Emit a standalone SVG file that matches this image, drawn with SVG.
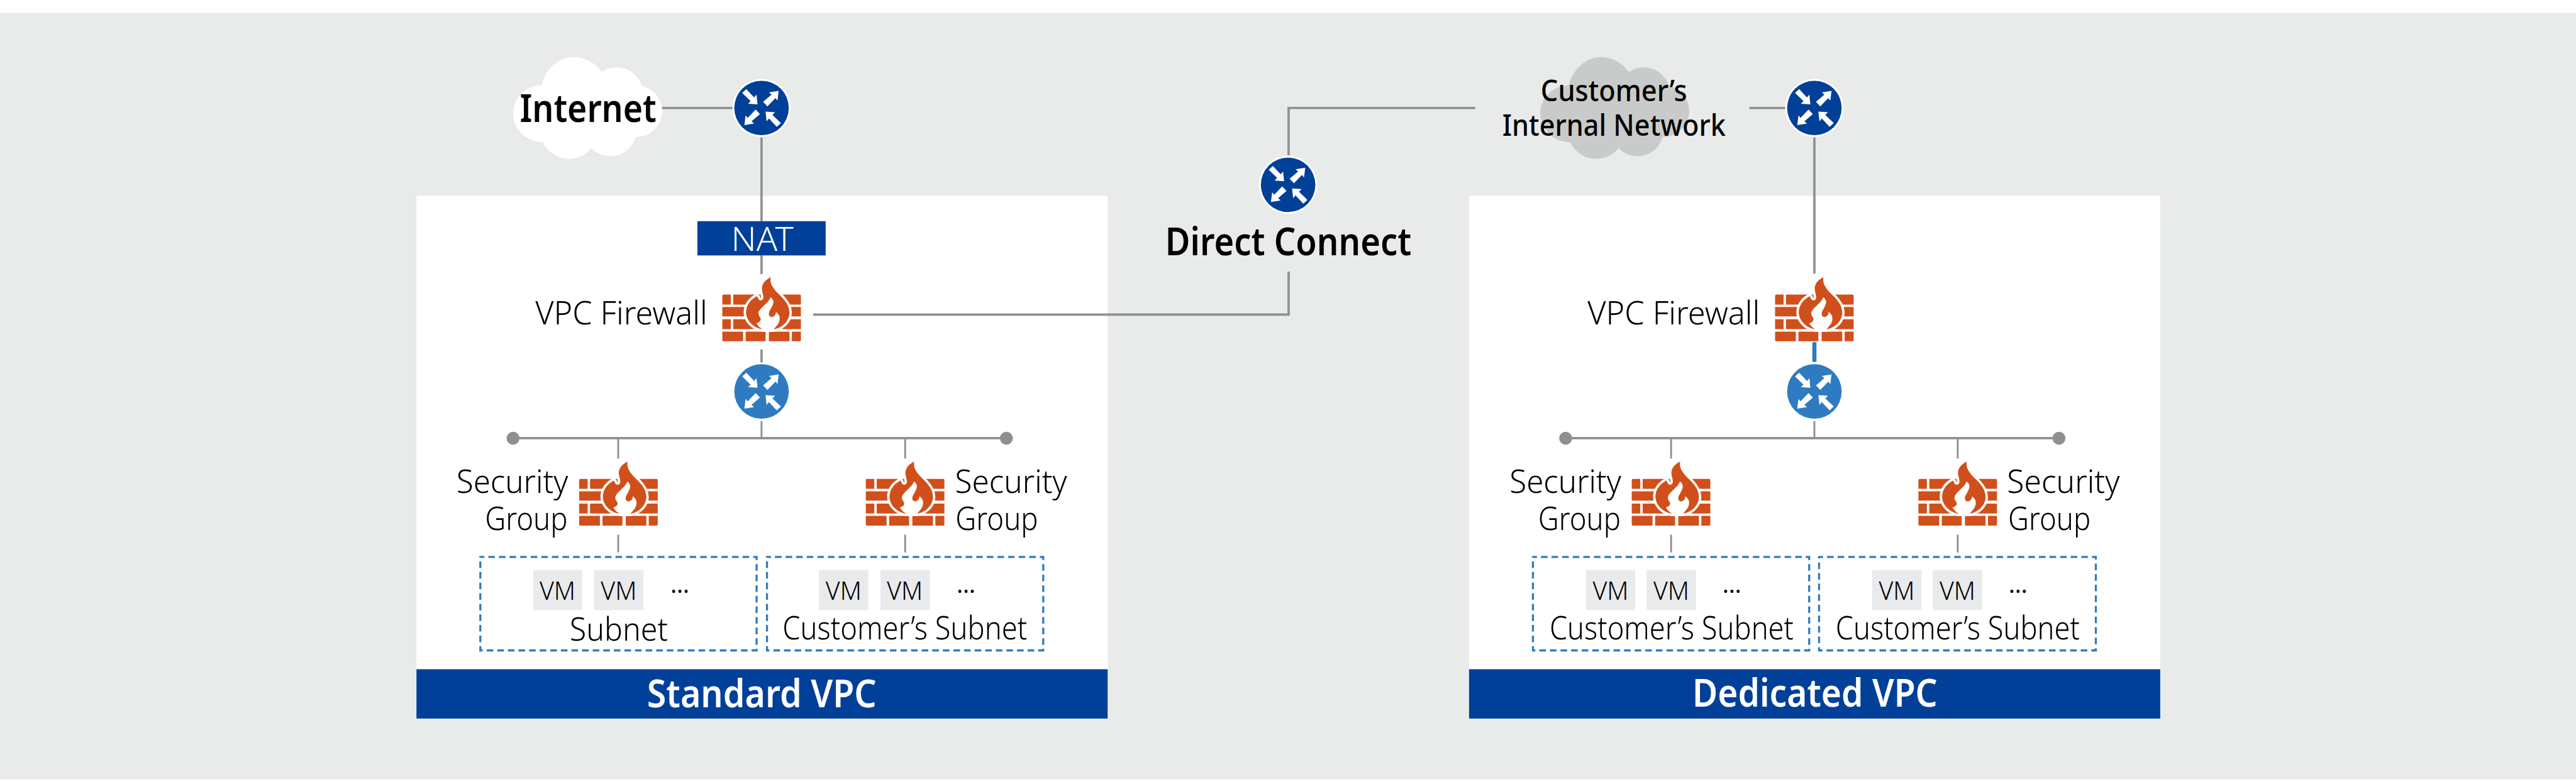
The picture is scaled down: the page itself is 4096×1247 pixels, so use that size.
<svg xmlns="http://www.w3.org/2000/svg" width="4096" height="1247" viewBox="0 0 4096 1247">
<style>
text{font-family:"Noto Sans","Liberation Sans",sans-serif;fill:#000;text-anchor:start}
.lbl{font-size:62px;font-weight:300}
.vm{font-size:49px;font-weight:300}
.dots{font-size:46px;font-weight:400}
.sub{font-size:62px;font-weight:300}
.ttl{font-size:74px;font-weight:600}
.cn{font-size:56px;font-weight:500}
.w{fill:#fff}
.bar{fill:#004098}
.panel{fill:#fff}
.vmbox{fill:#E9EAEC}
.dash{fill:none;stroke:#2F7BC1;stroke-width:4;stroke-dasharray:12.700 7.700;stroke-dashoffset:5}
.ln{fill:none;stroke:#8E8F8F;stroke-width:4.500}
.thin{fill:none;stroke:#8E8F8F;stroke-width:3.500}
.brk{fill:#D14F1A}
</style>
<defs>
<g id="arrows" fill="#fff">
<polygon points="-29.3,-36.3 -14.3,-20.3 -9.7,-25.7 -7.7,-7 -26,-8.3 -21,-13.3 -37.3,-29"/>
<polygon points="33,-33 14.3,-30 19.3,-25.7 3,-11.7 11.3,-3 26.7,-19 30.7,-14.3"/>
<polygon points="-33,33 -14.3,30 -19.3,25.7 -3,11.7 -11.3,3 -26.7,19 -30.7,14.3"/>
<polygon points="29.3,36.3 14.3,20.3 9.7,25.7 7.7,7 26,8.3 21,13.3 37.3,29"/>
</g>
<path id="cloud" d="M1043 164C1050 135 1075 110 1104 110C1128 110 1148 123 1159 139C1167 133 1176 130 1187 130C1211 130 1229 145 1236 165C1258 171 1275 190 1275 214C1275 241 1253 264 1224 264C1217 286 1198 301 1175 301C1161 301 1148 295 1139 285C1129 298 1113 306 1096 306C1074 306 1055 293 1046 274C1013 274 988 248 988 218C988 190 1012 165 1043 164Z"/>
<g id="fw">
<path class="brk" d="M100 202H142V260H93V209Q93 202 100 202ZM156 202H540Q547 202 547 209V260H156ZM93 274H547V328H93ZM93 345H142V402H93ZM156 345H547V402H156ZM93 416H213V472H100Q93 472 93 465ZM228 416H343V472H228ZM362 416H481V472H362ZM495 416H547V465Q547 472 540 472H495Z"/>
<path d="M373 102C352 110 320 135 322 170C323 190 332 205 330 222C326 240 305 240 300 225C298 218 296 214 292 212C255 232 230 265 230 305C230 350 270 395 325 403L392 403C445 392 482 350 481 305C480 265 455 235 430 210C400 180 362 145 373 102Z" fill="#D14F1A" stroke="#fff" stroke-width="28" paint-order="stroke" stroke-linejoin="round"/>
<path d="M372 217C362 245 330 265 310 290C298 305 300 320 312 335C320 350 312 360 290 368C300 385 315 398 330 406L390 406C392 398 398 395 405 385C425 365 430 335 418 318C412 310 407 305 403 302C403 318 392 332 378 332C364 332 358 318 364 302C372 285 388 262 388 245C388 232 380 224 372 217Z" fill="#fff"/>
</g>
</defs>
<g transform="scale(.8257 .8258)">
<rect x="0" y="25" width="4961" height="1476" fill="#E9EBEA"/>
<g id="standard-vpc">
<rect class="panel" x="802" y="377" width="1331" height="913"/>
<rect class="bar" x="802" y="1289" width="1331" height="95"/>
<text class="ttl w" x="1246" y="1362" textLength="442" lengthAdjust="spacingAndGlyphs">Standard VPC</text>
</g>
<g id="dedicated-vpc">
<rect class="panel" x="2829" y="377" width="1331" height="913"/>
<rect class="bar" x="2829" y="1289" width="1331" height="95"/>
<text class="ttl w" x="3259" y="1361" textLength="472" lengthAdjust="spacingAndGlyphs">Dedicated VPC</text>
</g>
<g id="internet">
<use href="#cloud" fill="#fff"/>
<text class="ttl" x="1001" y="235" textLength="263" lengthAdjust="spacingAndGlyphs">Internet</text>
</g>
<g id="customer-network">
<use href="#cloud" x="1978" fill="#C9CBCA"/>
<text class="cn" x="2967" y="195" textLength="282" lengthAdjust="spacingAndGlyphs">Customer’s</text>
<text class="cn" x="2893" y="261" textLength="430" lengthAdjust="spacingAndGlyphs">Internal Network</text>
</g>
<g id="connectors">
<path class="ln" d="M1275 208H1411M1466.500 265V426M1466.500 492V528M1466.500 673V698"/>
<path class="ln" d="M1566 606H2481.500V523M2481.500 299V208H2841"/>
<path class="ln" d="M3369 208H3438M3494 265V527"/>
<path d="M3494 659V697" fill="none" stroke="#2F7BC1" stroke-width="8"/>
<path class="ln" d="M988 844H1938M3015 844H3965" stroke-width="5"/>
<path class="thin" d="M1466.500 811V844M1190.500 844V883M1743 844V883M1190.500 1030V1064M1743 1030V1064"/>
<path class="thin" d="M3494 811V844M3218 844V883M3770 844V883M3218 1030V1064M3770 1030V1064"/>
<g fill="#8E8F8F"><circle cx="988" cy="844" r="12.500"/><circle cx="1938" cy="844" r="12.500"/><circle cx="3015" cy="844" r="12.500"/><circle cx="3965" cy="844" r="12.500"/></g>
</g>
<g id="router-internet"><circle cx="1466.500" cy="208" r="56" fill="#fff"/><circle cx="1466.500" cy="208" r="52.500" fill="#004098"/><use href="#arrows" x="1466.500" y="208"/></g>
<g id="router-direct"><circle cx="2480.500" cy="356" r="56" fill="#fff"/><circle cx="2480.500" cy="356" r="52.500" fill="#004098"/><use href="#arrows" x="2480.500" y="356"/></g>
<g id="router-customer"><circle cx="3494" cy="208" r="56" fill="#fff"/><circle cx="3494" cy="208" r="52.500" fill="#004098"/><use href="#arrows" x="3494" y="208"/></g>
<g id="router-standard"><circle cx="1466.500" cy="754" r="52.500" fill="#2F7BC1"/><use href="#arrows" x="1466.500" y="754"/></g>
<g id="router-dedicated"><circle cx="3494" cy="754" r="52.500" fill="#2F7BC1"/><use href="#arrows" x="3494" y="754"/></g>
<g id="direct-connect-label"><text class="ttl" x="2244" y="492" textLength="474" lengthAdjust="spacingAndGlyphs">Direct Connect</text></g>
<g id="nat"><rect class="bar" x="1343" y="426" width="247" height="66"/><text class="w" x="1408" y="483" font-size="64" font-weight="300" textLength="120" lengthAdjust="spacingAndGlyphs">NAT</text></g>
<g id="fw-standard"><text class="lbl" x="1031" y="625" textLength="331" lengthAdjust="spacingAndGlyphs">VPC Firewall</text><use href="#fw" transform="translate(1360 500) scale(.3333)"/></g>
<g id="fw-dedicated"><text class="lbl" x="3057" y="625" textLength="332" lengthAdjust="spacingAndGlyphs">VPC Firewall</text><use href="#fw" transform="translate(3387.300 500) scale(.3333)"/></g>
<g id="sg-s1"><text class="lbl" x="879" y="949" textLength="215" lengthAdjust="spacingAndGlyphs">Security</text><text class="lbl" x="934" y="1021" textLength="159" lengthAdjust="spacingAndGlyphs">Group</text><use href="#fw" transform="translate(1084.300 855) scale(.3333)"/></g>
<g id="sg-s2"><text class="lbl" x="1839" y="949" textLength="216" lengthAdjust="spacingAndGlyphs">Security</text><text class="lbl" x="1840" y="1021" textLength="159" lengthAdjust="spacingAndGlyphs">Group</text><use href="#fw" transform="translate(1636.300 855) scale(.3333)"/></g>
<g id="sg-d1"><text class="lbl" x="2907" y="949" textLength="215" lengthAdjust="spacingAndGlyphs">Security</text><text class="lbl" x="2962" y="1021" textLength="159" lengthAdjust="spacingAndGlyphs">Group</text><use href="#fw" transform="translate(3111.300 855) scale(.3333)"/></g>
<g id="sg-d2"><text class="lbl" x="3865" y="949" textLength="217" lengthAdjust="spacingAndGlyphs">Security</text><text class="lbl" x="3867" y="1021" textLength="159" lengthAdjust="spacingAndGlyphs">Group</text><use href="#fw" transform="translate(3663.300 855) scale(.3333)"/></g>
<g id="subnet-s1"><rect class="dash" x="925" y="1072.700" width="532" height="180"/>
<rect class="vmbox" x="1027" y="1098" width="94" height="77"/><rect class="vmbox" x="1144" y="1098" width="95" height="77"/>
<text class="vm" x="1039" y="1155" textLength="69" lengthAdjust="spacingAndGlyphs">VM</text><text class="vm" x="1157" y="1155" textLength="69" lengthAdjust="spacingAndGlyphs">VM</text>
<text class="dots" x="1291" y="1142">…</text>
<text class="sub" x="1097" y="1234" textLength="189" lengthAdjust="spacingAndGlyphs">Subnet</text></g>
<g id="subnet-s2"><rect class="dash" x="1477" y="1072.700" width="532" height="180"/>
<rect class="vmbox" x="1577" y="1098" width="95" height="77"/><rect class="vmbox" x="1695.500" y="1098" width="95" height="77"/>
<text class="vm" x="1590" y="1155" textLength="69" lengthAdjust="spacingAndGlyphs">VM</text><text class="vm" x="1708" y="1155" textLength="69" lengthAdjust="spacingAndGlyphs">VM</text>
<text class="dots" x="1842" y="1142">…</text>
<text class="sub" x="1507" y="1231" textLength="471" lengthAdjust="spacingAndGlyphs">Customer’s Subnet</text></g>
<g id="subnet-d1"><rect class="dash" x="2952" y="1072.700" width="532" height="180"/>
<rect class="vmbox" x="3054" y="1098" width="95" height="77"/><rect class="vmbox" x="3171" y="1098" width="95" height="77"/>
<text class="vm" x="3067" y="1155" textLength="69" lengthAdjust="spacingAndGlyphs">VM</text><text class="vm" x="3184" y="1155" textLength="69" lengthAdjust="spacingAndGlyphs">VM</text>
<text class="dots" x="3317" y="1142">…</text>
<text class="sub" x="2984" y="1231" textLength="470" lengthAdjust="spacingAndGlyphs">Customer’s Subnet</text></g>
<g id="subnet-d2"><rect class="dash" x="3503" y="1072.700" width="533" height="180"/>
<rect class="vmbox" x="3605" y="1098" width="95" height="77"/><rect class="vmbox" x="3722" y="1098" width="95" height="77"/>
<text class="vm" x="3618" y="1155" textLength="69" lengthAdjust="spacingAndGlyphs">VM</text><text class="vm" x="3735" y="1155" textLength="69" lengthAdjust="spacingAndGlyphs">VM</text>
<text class="dots" x="3868" y="1142">…</text>
<text class="sub" x="3535" y="1231" textLength="470" lengthAdjust="spacingAndGlyphs">Customer’s Subnet</text></g>
</g>
</svg>
